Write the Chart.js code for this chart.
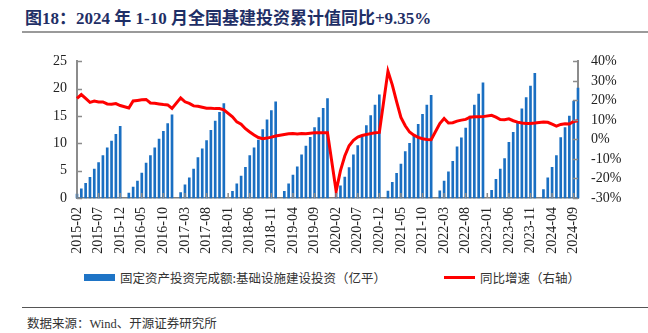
<!DOCTYPE html>
<html>
<head>
<meta charset="utf-8">
<script src="https://cdn.jsdelivr.net/npm/chart.js@4.4.1/dist/chart.umd.min.js"></script>
<style>
  html, body { margin: 0; padding: 0; background: #fff; }
  #page { position: relative; width: 648px; height: 333px; overflow: hidden; font-family: "Liberation Serif", "Noto Sans CJK SC", serif; }
  #title { position: absolute; left: 25px; top: 4px; font-size: 17px; font-weight: bold; color: #1f2f66; white-space: nowrap; }
  #titleRule { position: absolute; left: 22px; top: 31px; width: 626px; height: 2px; background: #9a9a9a; }
  #chartBox { position: absolute; left: 0; top: 40px; width: 648px; height: 222px; }
  #legend { position: absolute; top: 269px; left: 0; width: 648px; font-family: "Noto Sans CJK SC", sans-serif; font-size: 12.5px; color: #333; white-space: nowrap; }
  .item { position: absolute; top: 0; display: flex; align-items: center; height: 16px; }
  .swatch { display: inline-block; width: 31px; margin-right: 5px; }
  #rule2 { position: absolute; left: 22px; top: 307px; width: 626px; height: 1px; background: #555; }
  #source { position: absolute; left: 27px; top: 313px; font-size: 12.5px; color: #333; font-family: "Liberation Serif", "Noto Sans CJK SC", serif; white-space: nowrap; }
</style>
</head>
<body>
<div id="page">
  <div id="title">图18：2024 年 1-10 月全国基建投资累计值同比+9.35%</div>
  <div id="titleRule"></div>
  <div id="chartBox"><canvas id="infraChart" width="648" height="222"></canvas></div>
  <div id="legend">
    <span class="item" style="left:84px"><span class="swatch" style="height:7px;background:#1e74c6"></span>固定资产投资完成额:基础设施建设投资（亿平）</span>
    <span class="item" style="left:444px"><span class="swatch" style="height:3px;background:#ff0000"></span>同比增速（右轴）</span>
  </div>
  <div id="rule2"></div>
  <div id="source">数据来源：Wind、开源证券研究所</div>
</div>
<script>
// months 2015-02 .. 2024-10, January has no separate release (null)
const months = [];
for (let y = 2015; y <= 2024; y++) {
  for (let m = 1; m <= 12; m++) {
    if (y === 2015 && m < 2) continue;
    if (y === 2024 && m > 10) break;
    months.push(y + "-" + String(m).padStart(2, "0"));
  }
}

// cumulative investment, Feb..Dec each year (Jan = null)
const inv2015 = [0.7, 1.7, 2.7, 3.8, 5.3, 6.5, 7.75, 9.2, 10.4, 11.65, 13.1];
const inv2016 = [null, 0.9, 2.0, 3.1, 4.55, 6.4, 7.75, 9.2, 10.8, 12.2, 13.6, 15.2];
const inv2017 = [null, 1.0, 2.4, 3.7, 5.3, 7.4, 9.0, 10.5, 12.4, 14.1, 15.7, 17.3];
const inv2018 = [null, 1.2, 2.6, 4.0, 5.6, 7.75, 9.2, 10.6, 12.5, 14.3, 16.0, 17.6];
const inv2019 = [null, 1.2, 2.6, 4.2, 5.7, 7.9, 9.5, 11.1, 12.9, 14.7, 16.4, 18.2];
const inv2020 = [null, 0.95, 2.25, 3.85, 5.55, 7.9, 9.6, 11.3, 13.25, 15.1, 17.0, 18.9];
const inv2021 = [null, 1.25, 2.85, 4.5, 6.2, 8.5, 10.0, 11.6, 13.5, 15.3, 17.0, 18.8];
const inv2022 = [null, 1.3, 3.1, 4.8, 6.7, 9.35, 11.0, 12.8, 15.0, 17.0, 19.0, 21.1];
const inv2023 = [null, 1.4, 3.4, 5.3, 7.2, 10.2, 12.0, 14.0, 16.3, 18.4, 20.5, 22.8];
const inv2024 = [null, 1.55, 3.7, 5.6, 7.75, 11.05, 12.9, 15.0, 17.75, 20.1];

// year-on-year growth, % (right axis)
const yoy2015 = [21.0, 23.0, 21.0, 19.0, 19.7, 19.2, 19.2, 18.2, 18.0, 18.4, 17.4];
const yoy2016 = [null, 16.1, 19.7, 20.0, 20.3, 20.5, 18.7, 18.5, 18.2, 17.9, 17.7, 15.9];
const yoy2017 = [null, 21.3, 19.3, 18.5, 17.2, 17.0, 16.5, 16.0, 16.0, 15.8, 15.8, 15.2];
const yoy2018 = [null, 11.6, 9.0, 7.8, 5.5, 3.8, 2.3, 1.0, 0.4, 0.7, 1.2, 1.8];
const yoy2019 = [null, 2.5, 2.9, 3.0, 2.8, 3.0, 2.9, 3.2, 3.4, 3.4, 3.5, 3.5];
const yoy2020 = [null, -26.5, -16.0, -8.5, -3.2, -0.4, 1.2, 2.0, 2.5, 3.0, 3.4, 3.6];
const yoy2021 = [null, 35.0, 28.0, 19.4, 11.3, 7.0, 3.8, 2.2, 1.1, 0.4, 0.0, -0.1];
const yoy2022 = [null, 8.1, 10.7, 8.4, 8.6, 9.4, 9.9, 10.3, 11.4, 11.6, 11.6, 11.7];
const yoy2023 = [null, 12.4, 11.4, 10.2, 10.1, 10.6, 9.6, 8.9, 8.4, 8.2, 8.2, 8.4];
const yoy2024 = [null, 9.0, 8.8, 7.8, 6.8, 7.7, 8.1, 7.9, 9.2, 9.6];

const leftTicks = [0, 5, 10, 15, 20, 25];
const rightTicks = [-30, -20, -10, 0, 10, 20, 30, 40];

const investment = [].concat(inv2015, inv2016, inv2017, inv2018, inv2019, inv2020, inv2021, inv2022, inv2023, inv2024);
const growth = [].concat(yoy2015, yoy2016, yoy2017, yoy2018, yoy2019, yoy2020, yoy2021, yoy2022, yoy2023, yoy2024);

const serif = "'Liberation Serif', 'Times New Roman', serif";

// small tick marks pointing into the plot, like the original
const inwardTicks = {
  id: "inwardTicks",
  afterDraw(chart) {
    const { ctx, chartArea } = chart;
    const x = chart.scales.x, y = chart.scales.y, y1 = chart.scales.y1;
    ctx.save();
    ctx.strokeStyle = "#8c8c8c";
    ctx.lineWidth = 1.5;
    ctx.beginPath();
    leftTicks.forEach((v) => {
      const py = Math.round(y.getPixelForValue(v)) + 0.5;
      ctx.moveTo(chartArea.left, py);
      ctx.lineTo(chartArea.left + 5, py);
    });
    rightTicks.forEach((v) => {
      const py = Math.round(y1.getPixelForValue(v)) + 0.5;
      ctx.moveTo(chartArea.right - 5, py);
      ctx.lineTo(chartArea.right, py);
    });
    months.forEach((m, i) => {
      if (i % 5 !== 0) return;
      const px = x.getPixelForValue(i);
      ctx.moveTo(px, chartArea.bottom);
      ctx.lineTo(px, chartArea.bottom - 5);
    });
    ctx.stroke();
    ctx.restore();
  },
};

new Chart(document.getElementById("infraChart"), {
  data: {
    labels: months,
    datasets: [
      {
        type: "bar",
        label: "固定资产投资完成额:基础设施建设投资（亿平）",
        data: investment,
        yAxisID: "y",
        backgroundColor: "#1a6fc2",
        barThickness: 2,
        clip: 4,
        order: 2,
      },
      {
        type: "line",
        label: "同比增速（右轴）",
        data: growth,
        yAxisID: "y1",
        borderColor: "#ff0000",
        borderWidth: 3,
        pointRadius: 0,
        tension: 0,
        spanGaps: true,
        order: 1,
      },
    ],
  },
  options: {
    responsive: false,
    animation: false,
    devicePixelRatio: 1,
    layout: { padding: { top: 17, left: 0, right: 0, bottom: 0 } },
    plugins: { legend: { display: false }, tooltip: { enabled: false } },
    scales: {
      x: {
        offset: false,
        grid: { display: false, drawTicks: false },
        border: { display: true, color: "#7f7f7f", width: 1.5 },
        ticks: {
          autoSkip: false,
          minRotation: 90,
          maxRotation: 90,
          padding: 9,
          color: "#222",
          font: { family: serif, size: 14 },
          callback: (value, index) => (index % 5 === 0 ? months[index] : null),
        },
        afterFit: (scale) => { scale.height = 64; },
      },
      y: {
        position: "left",
        min: 0,
        max: 25,
        grid: { display: false, drawTicks: false },
        border: { display: true, color: "#8c8c8c", width: 2 },
        ticks: { stepSize: 5, autoSkip: false, padding: 10, color: "#222", font: { family: serif, size: 14 } },
        afterFit: (scale) => { scale.width = 77; },
      },
      y1: {
        position: "right",
        min: -30,
        max: 40,
        grid: { display: false, drawTicks: false },
        border: { display: true, color: "#8c8c8c", width: 2 },
        ticks: {
          stepSize: 10,
          autoSkip: false,
          padding: 13,
          color: "#222",
          font: { family: serif, size: 14 },
          callback: (v) => v + "%",
        },
        afterFit: (scale) => { scale.width = 70; },
      },
    },
  },
  plugins: [inwardTicks],
});
</script>
</body>
</html>
